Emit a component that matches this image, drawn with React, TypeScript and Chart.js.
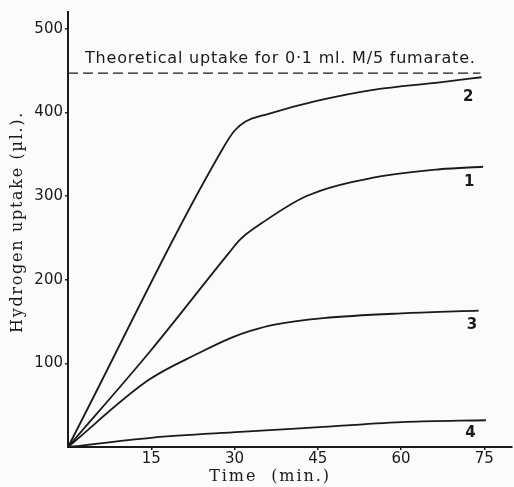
import React, { useEffect, useRef } from "react";
import { Chart, registerables } from "chart.js";

Chart.register(...registerables);

// Time (min.) and hydrogen uptake (µl.)
const curve1X = [0, 15, 29, 31, 35, 43, 55, 67, 74.8];
const curve1Y = [0, 116, 232, 248, 268, 300, 322, 332, 335];
const curve2X = [0, 28, 30, 32, 36, 45, 55, 67, 74.5];
const curve2Y = [0, 358, 378, 389, 398, 414, 427, 436, 442];
const curve3X = [0, 14.5, 23.5, 29.6, 33, 37, 46, 61, 74];
const curve3Y = [0, 80, 112, 131, 139, 146, 154, 160, 163];
const curve4X = [0, 15, 31, 46, 61, 75.3];
const curve4Y = [0, 11, 18, 24, 30, 32];
const theoreticalX = [0, 74.3];
const theoreticalValue = 447;

const curveLabels = ["1", "2", "3", "4"];
const labelX = [72.3, 72.1, 72.8, 72.5];
const labelY = [317, 418, 146, 17];

const xTicks = [15, 30, 45, 60, 75];
const yTicks = [100, 200, 300, 400, 500];

const theoreticalText = "Theoretical uptake for 0·1 ml. M/5 fumarate.";
const yTitle = "Hydrogen uptake (µl.).";
const xTitle = "Time  (min.)";

const toPoints = (xs: number[], ys: number[]) => xs.map((x, i) => ({ x, y: ys[i] }));

export default function App() {
  const ref = useRef<HTMLCanvasElement | null>(null);
  useEffect(() => {
    if (!ref.current) return;
    const lineDs = (xs: number[], ys: number[]) => ({
      data: toPoints(xs, ys),
      borderColor: "#1a1a1a",
      borderWidth: 1.8,
      pointRadius: 0,
      fill: false,
      cubicInterpolationMode: "monotone" as const,
    });
    const textPlugin = {
      id: "texts",
      beforeDraw(chart: any) {
        const c = chart.ctx;
        c.save();
        c.fillStyle = "#fbfbfb";
        c.fillRect(0, 0, chart.width, chart.height);
        c.restore();
      },
      afterDraw(chart: any) {
        const c = chart.ctx;
        const xs = chart.scales.x;
        const ys = chart.scales.y;
        c.save();
        c.fillStyle = "#1a1a1a";
        // curve labels
        c.font = "bold 15px 'DejaVu Sans'";
        c.textAlign = "center";
        c.textBaseline = "middle";
        curveLabels.forEach((t, i) => {
          c.fillText(t, xs.getPixelForValue(labelX[i]), ys.getPixelForValue(labelY[i]));
        });
        // theoretical text
        c.font = "16px 'DejaVu Sans'";
        (c as any).letterSpacing = "0.8px";
        c.textAlign = "left";
        c.textBaseline = "alphabetic";
        c.fillText(theoreticalText, 85, 63);
        // axis titles
        c.font = "16px 'DejaVu Serif'";
        (c as any).letterSpacing = "1.9px";
        c.textAlign = "center";
        c.textBaseline = "middle";
        c.fillText(xTitle, 270, 477);
        (c as any).letterSpacing = "1.7px";
        c.translate(18, 222);
        c.rotate(-Math.PI / 2);
        c.fillText(yTitle, 0, 0);
        c.restore();
      },
    };
    const chart = new Chart(ref.current, {
      type: "line",
      data: {
        datasets: [
          lineDs(curve1X, curve1Y),
          lineDs(curve2X, curve2Y),
          lineDs(curve3X, curve3Y),
          lineDs(curve4X, curve4Y),
          {
            data: toPoints(theoreticalX, theoreticalX.map(() => theoreticalValue)),
            borderColor: "#1a1a1a",
            borderWidth: 1.3,
            borderDash: [10, 5],
            pointRadius: 0,
            fill: false,
          },
        ],
      },
      options: {
        responsive: false,
        animation: false,
        layout: { padding: { top: 12, right: 2, left: 0, bottom: 0 } },
        plugins: { legend: { display: false }, tooltip: { enabled: false } },
        scales: {
          x: {
            type: "linear",
            min: 0,
            max: 80,
            afterFit: (s: any) => {
              s.height = 40;
            },
            afterBuildTicks: (s: any) => {
              s.ticks = xTicks.map((v) => ({ value: v }));
            },
            border: { display: true, color: "#1a1a1a", width: 2 },
            grid: { display: true, drawOnChartArea: false, tickLength: 3, color: "#1a1a1a", lineWidth: 1.5 },
            ticks: {
              color: "#1a1a1a",
              padding: 0,
              font: { family: "'DejaVu Sans'", size: 15 },
              maxRotation: 0,
              callback: (v: any) => String(v),
            },
          },
          y: {
            type: "linear",
            min: 0,
            max: 520,
            afterFit: (s: any) => {
              s.width = 68;
            },
            afterBuildTicks: (s: any) => {
              s.ticks = yTicks.map((v) => ({ value: v }));
            },
            border: { display: true, color: "#1a1a1a", width: 2 },
            grid: { display: true, drawOnChartArea: false, tickLength: 3, color: "#1a1a1a", lineWidth: 1.5 },
            ticks: {
              color: "#1a1a1a",
              padding: 2,
              font: { family: "'DejaVu Sans'", size: 15 },
              callback: (v: any) => String(v),
            },
          },
        },
      },
      plugins: [textPlugin],
    });
    return () => chart.destroy();
  }, []);
  return (
    <div style={{ position: "fixed", left: 0, top: 0, width: 514, height: 487 }}>
      <canvas ref={ref} width={514} height={487} />
    </div>
  );
}
